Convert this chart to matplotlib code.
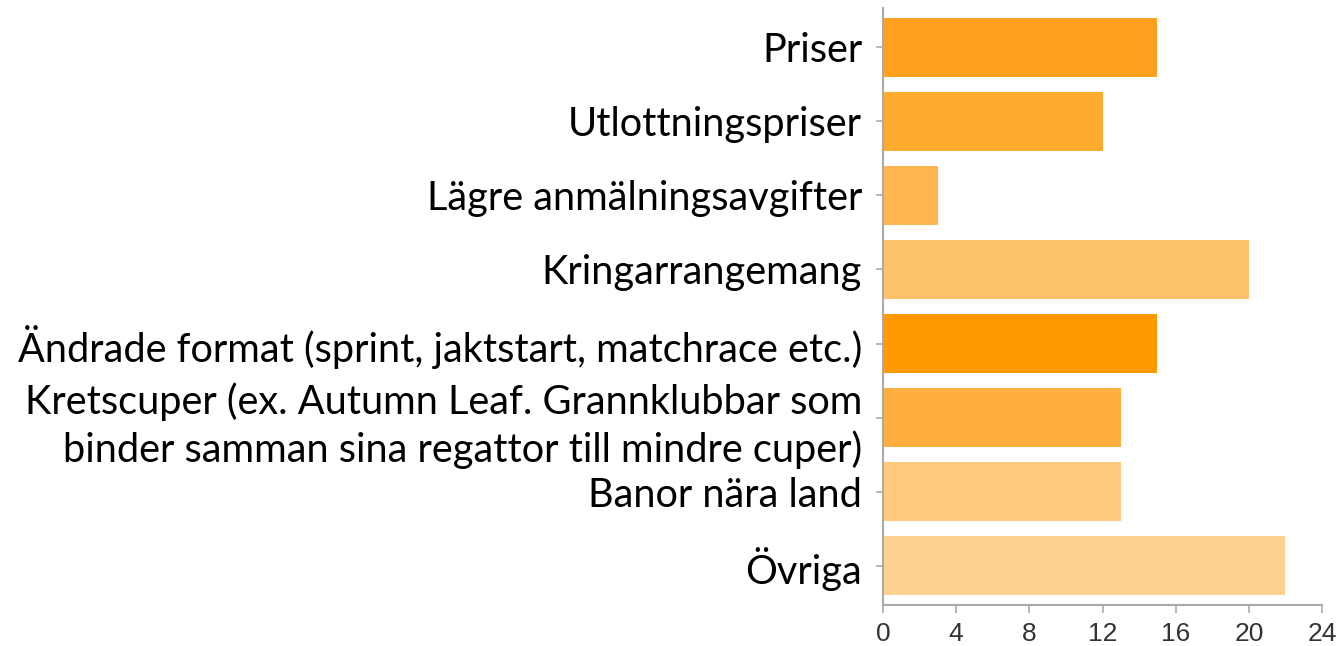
import matplotlib
matplotlib.use("Agg")
import matplotlib.pyplot as plt

categories = [
    "Priser",
    "Utlottningspriser",
    "Lägre anmälningsavgifter",
    "Kringarrangemang",
    "Ändrade format (sprint, jaktstart, matchrace etc.)",
    "Kretscuper (ex. Autumn Leaf. Grannklubbar som\nbinder samman sina regattor till mindre cuper)",
    "Banor nära land",
    "Övriga",
]
values = [15, 12, 3, 20, 15, 13, 13, 22]
colors = ["#FFA11E", "#FFAB30", "#FFB550", "#FFC26C", "#FF9900", "#FFAE40", "#FFCA7E", "#FFD291"]
xticks = [0, 4, 8, 12, 16, 20, 24]

fig = plt.figure(figsize=(13.38, 6.46), dpi=100)
ax = fig.add_axes([883/1338, 1-605/646, (1322-883)/1338, (605-8)/646])

y = list(range(len(categories)))
ax.barh(y, values, height=0.8, color=colors, edgecolor="none")
ax.set_ylim(len(categories)-0.47, -0.53)
ax.set_xlim(0, 24)
ax.set_xticks(xticks)
ax.set_xticklabels([str(t) for t in xticks], fontsize=19, color="#333333",
                   family="Liberation Sans")
ax.set_yticks(y)
ax.set_yticklabels(categories, fontsize=28.6, family=["Lato", "DejaVu Sans"],
                   color="black", linespacing=1.3)

for s in ["top", "right"]:
    ax.spines[s].set_visible(False)
for s in ["left", "bottom"]:
    ax.spines[s].set_color("#aaaaaa")
    ax.spines[s].set_linewidth(1.5)
ax.tick_params(axis="y", length=5, color="#aaaaaa", width=1.2, pad=10)
ax.tick_params(axis="x", length=6, color="#aaaaaa", width=1.2, pad=6)

fig.savefig("out.png", dpi=100)
